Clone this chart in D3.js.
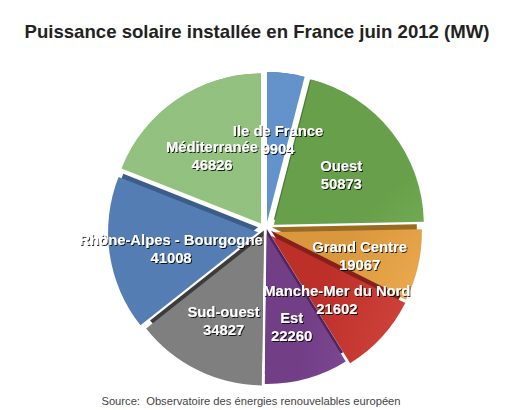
<!DOCTYPE html>
<html>
<head>
<meta charset="utf-8">
<script src="https://cdn.jsdelivr.net/npm/d3@7"></script>
<style>
  body { margin: 0; background: #fff; }
  svg { display: block; }
</style>
</head>
<body>
<svg></svg>
<script>
const regions = ['Ile de France', 'Ouest', 'Grand Centre', 'Manche-Mer du Nord',
    'Est', 'Sud-ouest', 'Rhône-Alpes - Bourgogne', 'Méditerranée'];
const values = [9904, 50873, 19067, 21602, 22260, 34827, 41008, 46826];
const colors = ['#6c9fdc', '#70ad50', '#eca542', '#cc342c',
    '#7c4392', '#8a8a8a', '#5b88c3', '#9fd28a'];
const sides = ['#3f6aa3', '#4b7a33', '#9a6a22', '#85201b',
    '#4f2560', '#3c3c3c', '#3c5d8a', '#6a9a58'];
const explode = [9, 10, 6, 7, 3, 5, 8, 9];

let width = 511;
let height = 410;
let cx = 266, cy = 231, r = 150, thick = 5;

let svg = d3.select('svg')
    .attr('width', width)
    .attr('height', height)
    .attr('font-family', '"Liberation Sans", Arial, sans-serif');

let defs = svg.append('defs');

// soft highlight near the top of the pie
let gloss = defs.append('radialGradient')
    .attr('id', 'gloss')
    .attr('gradientUnits', 'userSpaceOnUse')
    .attr('cx', cx - 5).attr('cy', cy - 90).attr('r', 230);
gloss.append('stop').attr('offset', '0').attr('stop-color', '#fff').attr('stop-opacity', 0.42);
gloss.append('stop').attr('offset', '0.55').attr('stop-color', '#fff').attr('stop-opacity', 0.08);
gloss.append('stop').attr('offset', '1').attr('stop-color', '#000').attr('stop-opacity', 0.08);

let shadow = defs.append('filter').attr('id', 'shadow')
    .attr('x', '-10%').attr('y', '-30%').attr('width', '120%').attr('height', '160%');
shadow.append('feDropShadow')
    .attr('dx', 1).attr('dy', 1).attr('stdDeviation', 0.7)
    .attr('flood-color', '#000').attr('flood-opacity', 0.85);

svg.append('text')
    .attr('x', 257)
    .attr('y', 33)
    .attr('text-anchor', 'middle')
    .attr('dominant-baseline', 'middle')
    .attr('font-weight', 'bold')
    .attr('font-size', 18.6)
    .attr('fill', '#222')
    .text('Puissance solaire installée en France juin 2012 (MW)');

let pie = d3.pie().sort(null).value(d => d);
let arcs = pie(values).map((d, i) => {
    d.i = i;
    d.mid = (d.startAngle + d.endAngle) / 2;
    d.dx = Math.sin(d.mid) * explode[i];
    d.dy = -Math.cos(d.mid) * explode[i];
    return d;
});

let face = d3.arc().innerRadius(0).outerRadius(r);
let side = d3.arc().innerRadius(0).outerRadius(r - thick);
let label = d3.arc().innerRadius(96).outerRadius(96);

let pieG = svg.append('g').attr('transform', `translate(${cx}, ${cy})`);

// upper slices first so the side band of lower ones sits on top
let order = arcs.slice().sort((a, b) => -Math.cos(a.mid) + Math.cos(b.mid));

let slices = pieG.selectAll('.slice')
    .data(order)
    .enter()
    .append('g')
    .attr('class', 'slice')
    .attr('transform', d => `translate(${d.dx}, ${d.dy})`);

slices.append('path')
    .attr('transform', `translate(0, ${-thick})`)
    .attr('d', side)
    .attr('fill', d => sides[d.i]);

slices.append('path')
    .attr('d', face)
    .attr('fill', d => colors[d.i]);

slices.append('path')
    .attr('d', face)
    .attr('fill', 'url(#gloss)');

let labels = pieG.selectAll('.label')
    .data(arcs)
    .enter()
    .append('text')
    .attr('class', 'label')
    .attr('text-anchor', 'middle')
    .attr('font-weight', 'bold')
    .attr('font-size', 14.8)
    .attr('fill', '#fff')
    .attr('filter', 'url(#shadow)')
    .attr('transform', d => {
        let [x, y] = label.centroid(d);
        return `translate(${x}, ${y + 5})`;
    });

labels.append('tspan')
    .attr('x', 0)
    .attr('y', -9)
    .attr('dominant-baseline', 'middle')
    .text(d => regions[d.i]);

labels.append('tspan')
    .attr('x', 0)
    .attr('y', 9)
    .attr('dominant-baseline', 'middle')
    .text(d => values[d.i]);

svg.append('text')
    .attr('x', 251)
    .attr('y', 402)
    .attr('text-anchor', 'middle')
    .attr('dominant-baseline', 'middle')
    .attr('font-size', 11.2)
    .attr('fill', '#444')
    .style('white-space', 'pre')
    .text('Source:  Observatoire des énergies renouvelables européen');
</script>
</body>
</html>
